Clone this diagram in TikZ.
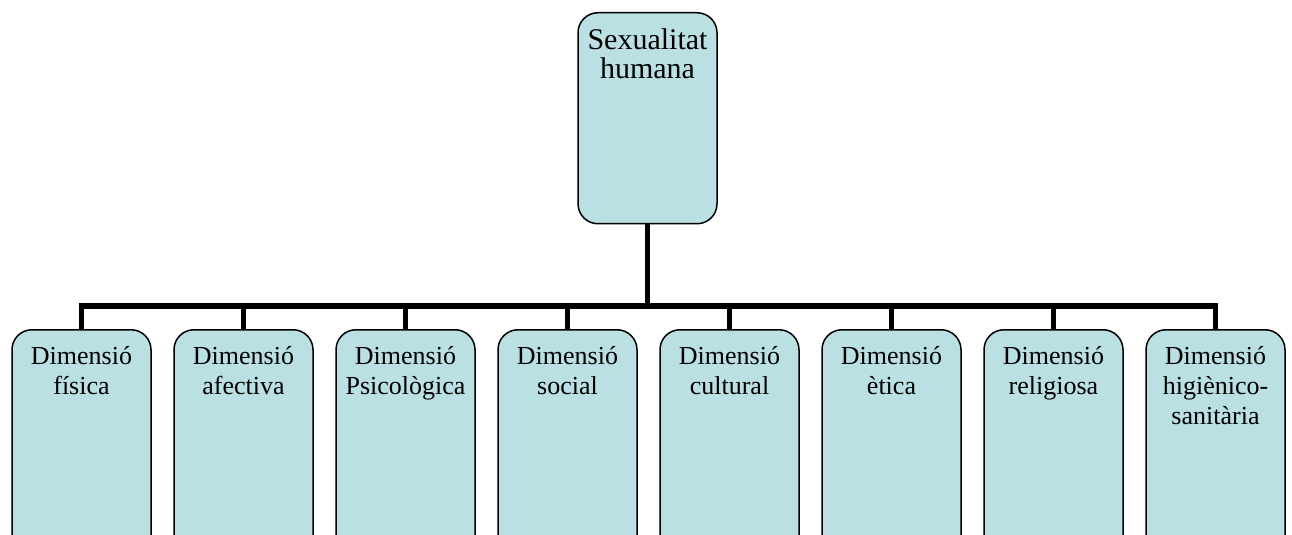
\documentclass[tikz,border=0pt]{standalone}
\usepackage{fontspec}
\setmainfont{Liberation Serif}
\usepackage{tikz}
\usetikzlibrary{positioning}
\definecolor{boxfill}{RGB}{187, 224, 227}
\newcommand{\toptext}[1]{\parbox[c][105.5pt][t]{69.5pt}{\centering\fontsize{15}{14.5}\selectfont\rule{0pt}{18.2pt}#1}}
\newcommand{\dimtext}[1]{\parbox[c][115pt][t]{69.5pt}{\centering\fontsize{13}{15}\selectfont\rule{0pt}{17.2pt}#1}}
\tikzset{
  dimbox/.style={draw=black, fill=boxfill, line width=0.75pt, rounded corners=10pt, inner sep=0pt, anchor=north},
  conn/.style={line width=2.6pt}
}

\begin{document}
\begin{tikzpicture}[x=0.5pt, y=-0.5pt]
    \clip (0,0) rectangle (1292,535);
    \node[dimbox] (top) at (647.5,12) {\toptext{Sexualitat\\humana}};
    \foreach \t [count=\i] in {{Dimensió\\física}, {Dimensió\\afectiva}, {Dimensió\\Psicològica},
      {Dimensió\\social}, {Dimensió\\cultural}, {Dimensió\\ètica}, {Dimensió\\religiosa},
      {Dimensió\\higiènico-\\sanitària}} {
      \node[dimbox] (d\i) at ({81.5+162*(\i-1)},329) {\dimtext{\t}};
    }
    \coordinate (bar) at (647.5,306);
    \draw[conn] (top.south) -- (bar);
    \foreach \i in {1,...,8}
      \draw[conn] (bar) -| (d\i.north);
  \end{tikzpicture}
\end{document}
